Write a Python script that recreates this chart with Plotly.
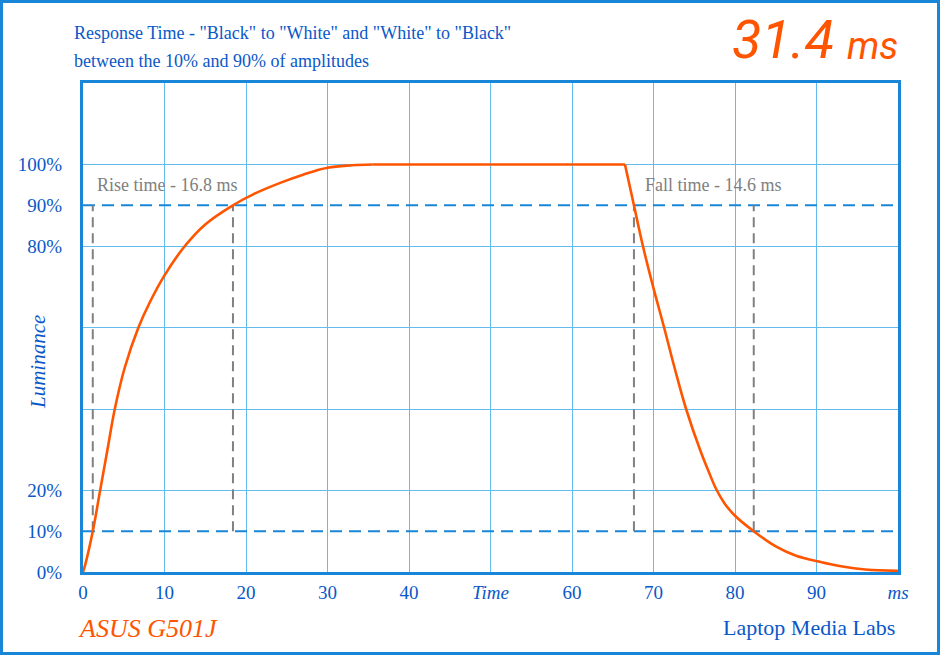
import plotly.graph_objects as go

# ---- data ----
rise_time = [0, 0.3, 1.2, 2.1, 3.0, 3.9, 5.1, 6.8, 8.2, 10.0, 12.5, 15.0, 18.4, 21.0, 24.2, 27.0, 30.0, 33.0, 35.5]
rise_lum = [0, 2, 10, 20, 30, 40, 50, 60, 66.2, 72.8, 80, 85.3, 90, 92.8, 95.5, 97.5, 99.2, 99.8, 100]
plateau_time = [35.5, 66.5]
plateau_lum = [100, 100]
fall_time = [66.5, 67.6, 68.7, 69.9, 71.3, 72.6, 74.0, 75.8, 76.8, 77.7, 78.7, 80.0, 82.3, 85.0, 87.5, 90.4, 93.0, 96.0, 100.0]
fall_lum = [100, 90, 80, 70.4, 60, 50, 40, 29.5, 24.5, 20.3, 16.9, 13.8, 10, 6.3, 4.0, 2.5, 1.4, 0.6, 0.3]
thresholds = [10, 90]
rise_marks = [1.2, 18.4]
fall_marks = [67.6, 82.3]
x_tickvals = [0, 10, 20, 30, 40, 50, 60, 70, 80, 90, 100]
x_ticktext = ["0", "10", "20", "30", "40", "<i>Time</i>", "60", "70", "80", "90", "<i>ms</i>"]
y_tickvals = [0, 10, 20, 80, 90, 100]
y_ticktext = ["0%", "10%", "20%", "80%", "90%", "100%"]
rise_label = "Rise time - 16.8 ms"
fall_label = "Fall time - 14.6 ms"
total_label = "31.4"

BLUE_TXT = "#0a58c8"
BLUE_LINE = "#1a86d8"
GRID = "#62bdee"
ORANGE = "#ff5500"
GRAY = "#808080"
FONT = "Liberation Serif"

fig = go.Figure()

# grid overlay axis (every 20%)
fig.add_trace(go.Scatter(x=[0], y=[0], xaxis="x", yaxis="y2", mode="markers",
                         marker=dict(opacity=0), showlegend=False, hoverinfo="skip"))

# threshold lines
for th in thresholds:
    fig.add_trace(go.Scatter(x=[0, 100], y=[th, th], mode="lines",
                             line=dict(color=BLUE_LINE, width=2, dash="12px,7px"),
                             showlegend=False, hoverinfo="skip"))
# gray verticals
for t in rise_marks + fall_marks:
    fig.add_trace(go.Scatter(x=[t, t], y=thresholds, mode="lines",
                             line=dict(color=GRAY, width=2, dash="10px,6px"),
                             showlegend=False, hoverinfo="skip"))

for xs, ys, shape in [(rise_time, rise_lum, "spline"), (plateau_time, plateau_lum, "linear"),
                      (fall_time, fall_lum, "spline")]:
    fig.add_trace(go.Scatter(x=xs, y=ys, mode="lines",
                             line=dict(color=ORANGE, width=2.6, shape=shape, smoothing=1.1),
                             showlegend=False))

fig.update_layout(
    width=940, height=655,
    margin=dict(l=83, r=42, t=83, b=83),
    paper_bgcolor="white", plot_bgcolor="white",
    font=dict(family=FONT, color=BLUE_TXT, size=18),
    xaxis=dict(range=[0, 100], tickvals=x_tickvals, ticktext=x_ticktext,
               showgrid=True, gridcolor=GRID, gridwidth=1, zeroline=False,
               showline=True, linecolor=BLUE_LINE, linewidth=3, mirror=True,
               ticks="", ticklabelstandoff=1, tickfont=dict(size=19, color=BLUE_TXT)),
    yaxis=dict(range=[0, 120], tickvals=y_tickvals, ticktext=y_ticktext,
               showgrid=False, zeroline=False,
               showline=True, linecolor=BLUE_LINE, linewidth=3, mirror=True,
               ticks="", ticklabelstandoff=14, tickfont=dict(size=19, color=BLUE_TXT)),
    yaxis2=dict(range=[0, 120], dtick=20, overlaying="y", showgrid=True, gridcolor=GRID,
                gridwidth=1, showticklabels=False, zeroline=False, layer="below traces"),
)

W, H = 815, 489

def px(x):
    return (x - 83) / W

def py(y):
    return (572 - y) / H

annotations = [
    dict(text='Response Time - "Black" to "White" and "White" to "Black"', x=px(72), y=py(33),
         xanchor="left", yanchor="middle", font=dict(size=18, color=BLUE_TXT)),
    dict(text="between the 10% and 90% of amplitudes", x=px(72), y=py(61),
         xanchor="left", yanchor="middle", font=dict(size=18, color=BLUE_TXT)),
    dict(text="<i>" + total_label + "</i>", x=px(836), y=py(40), xanchor="right", yanchor="middle",
         font=dict(family="Roboto", size=54, color=ORANGE)),
    dict(text="<i>ms</i>", x=px(845), y=py(46), xanchor="left", yanchor="middle",
         font=dict(family="Roboto", size=38, color=ORANGE)),
    dict(text="<i>Luminance</i>", x=px(38), y=py(362), xanchor="center", yanchor="middle",
         textangle=-90, font=dict(size=21, color=BLUE_TXT)),
    dict(text="<i>ASUS G501J</i>", x=px(76), y=py(628), xanchor="left", yanchor="middle",
         font=dict(size=26, color=ORANGE)),
    dict(text="Laptop Media Labs", x=px(897), y=py(627), xanchor="right", yanchor="middle",
         font=dict(size=22, color=BLUE_TXT)),
]
for a in annotations:
    a.update(xref="paper", yref="paper", showarrow=False)
    fig.add_annotation(**a)

fig.add_annotation(text=rise_label, x=rise_marks[0] + 0.3, y=95, xref="x", yref="y",
                   xanchor="left", yanchor="middle", showarrow=False,
                   font=dict(size=18, color=GRAY))
fig.add_annotation(text=fall_label, x=fall_marks[0] + 1.1, y=95, xref="x", yref="y",
                   xanchor="left", yanchor="middle", showarrow=False,
                   font=dict(size=18, color=GRAY))

# outer border of the picture
fig.add_shape(type="rect", xref="paper", yref="paper",
              x0=px(1.5), x1=px(938.5), y0=py(653.5), y1=py(1.5),
              line=dict(color=BLUE_LINE, width=3), layer="above")

fig.write_html("out.html")
